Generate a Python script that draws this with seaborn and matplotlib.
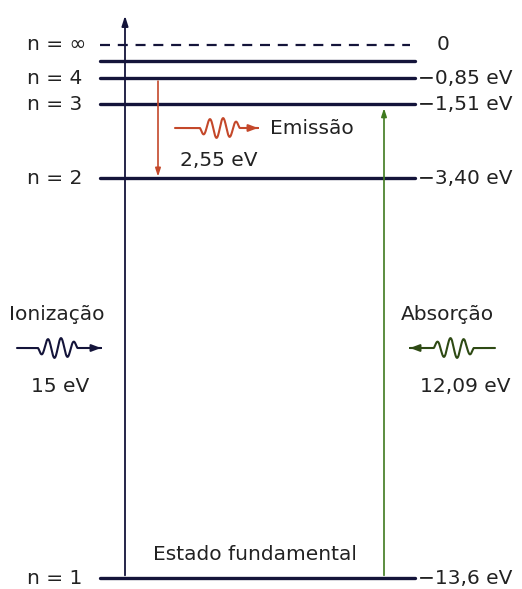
import numpy as np
import pandas as pd
import matplotlib
matplotlib.use("Agg")
import matplotlib.pyplot as plt
import seaborn as sns

sns.set_theme(style="white")
plt.rcParams['font.family'] = ['DejaVu Sans']

# energy levels of hydrogen (eV)
level_names = ['n = ∞', '', 'n = 4', 'n = 3', 'n = 2', 'n = 1']
level_energy = [0.0, -0.42, -0.85, -1.51, -3.40, -13.6]
level_right = ['0', '', '−0,85 eV', '−1,51 eV', '−3,40 eV', '−13,6 eV']
level_dashed = [True, False, False, False, False, False]

# transitions
emission_from, emission_to, emission_ev = -0.85, -3.40, '2,55 eV'
absorption_from, absorption_to, absorption_ev = -13.6, -1.51, '12,09 eV'
ionization_ev = '15 eV'

NAVY = '#14143a'
RED = '#c4482a'
GREEN = '#3f7a1f'
DKGREEN = '#2e4a14'
TXT = '#222222'

PX = 39.2          # pixels per eV (vertical)
X0, X1 = 100, 415  # level line extent

fig = plt.figure(figsize=(5.22, 5.89), dpi=100)
ax = fig.add_axes([0, 0, 1, 1])
ax.set_xlim(0, 522)
ax.set_ylim(-(589 - 45) / PX, 45 / PX)
ax.axis('off')

# level lines through seaborn
rows = []
for name, e, d in zip(level_names, level_energy, level_dashed):
    x_end = 410 if d else X1
    for x in (X0, x_end):
        rows.append({'x': x, 'E': e, 'lvl': f'{e}', 'kind': 'dash' if d else 'solid'})
df = pd.DataFrame(rows)
sns.lineplot(data=df[df.kind == 'solid'], x='x', y='E', units='lvl', estimator=None,
             color=NAVY, lw=2.4, ax=ax, legend=False)
sns.lineplot(data=df[df.kind == 'dash'], x='x', y='E', units='lvl', estimator=None,
             color=NAVY, lw=1.6, ax=ax, legend=False, linestyle=(0, (4.5, 3.5)))
ax.set_xlabel('')
ax.set_ylabel('')

fs = 14.5
for name, e, r in zip(level_names, level_energy, level_right):
    if name:
        ax.text(27, e, name, fontsize=fs, va='center', ha='left', color=TXT)
    if r:
        xr = 437 if r == '0' else 418
        ax.text(xr, e, r, fontsize=fs, va='center', ha='left', color=TXT)

# vertical energy axis
ax.annotate('', xy=(125, 32 / PX), xytext=(125, -13.6),
            arrowprops=dict(arrowstyle='-|>,head_length=0.5,head_width=0.16',
                            color=NAVY, lw=1.3))
# emission arrow
ax.annotate('', xy=(158, emission_to - 0.03), xytext=(158, emission_from),
            arrowprops=dict(arrowstyle='-|>,head_length=0.4,head_width=0.13',
                            color=RED, lw=1.2))
# absorption arrow
ax.annotate('', xy=(384, absorption_to - 0.03), xytext=(384, absorption_from),
            arrowprops=dict(arrowstyle='-|>,head_length=0.4,head_width=0.13',
                            color=GREEN, lw=1.2))


def photon(xa, xb, yc, color, w0, w1):
    # wavy photon symbol from xa to xb, arrow at xb
    t = np.linspace(0, 1, 300)
    xs = xa + (xb - xa) * t
    f = np.clip((t - w0) / (w1 - w0), 0, 1)
    env = np.where((t > w0) & (t < w1), np.sin(np.pi * f) ** 0.35, 0)
    ys = yc - env * np.sin(2 * np.pi * 3 * f) * 10 / PX
    ax.plot(xs[:-6], ys[:-6], color=color, lw=1.5)
    ax.annotate('', xy=(xb, yc), xytext=(xs[-12], yc),
                arrowprops=dict(arrowstyle='-|>,head_length=0.45,head_width=0.17',
                                color=color, lw=1.5))


e_y = -(128 - 45) / PX
photon(175, 258, e_y, RED, 0.3, 0.78)
ax.text(270, e_y, 'Emissão', fontsize=fs, va='center', ha='left', color=TXT)
ax.text(180, -(161 - 45) / PX, emission_ev, fontsize=fs, va='center', ha='left', color=TXT)

i_y = -(348 - 45) / PX
ax.text(57, -(314 - 45) / PX, 'Ionização', fontsize=fs, va='center', ha='center', color=TXT)
photon(17, 101, i_y, NAVY, 0.25, 0.72)
ax.text(60, -(386 - 45) / PX, ionization_ev, fontsize=fs, va='center', ha='center', color=TXT)

ax.text(447, -(314 - 45) / PX, 'Absorção', fontsize=fs, va='center', ha='center', color=TXT)
photon(495, 410, i_y, DKGREEN, 0.25, 0.72)
ax.text(465, -(386 - 45) / PX, absorption_ev, fontsize=fs, va='center', ha='center', color=TXT)

ax.text(255, -(555 - 45) / PX, 'Estado fundamental', fontsize=fs, va='center', ha='center',
        color=TXT)

fig.savefig('out.png', dpi=100)
